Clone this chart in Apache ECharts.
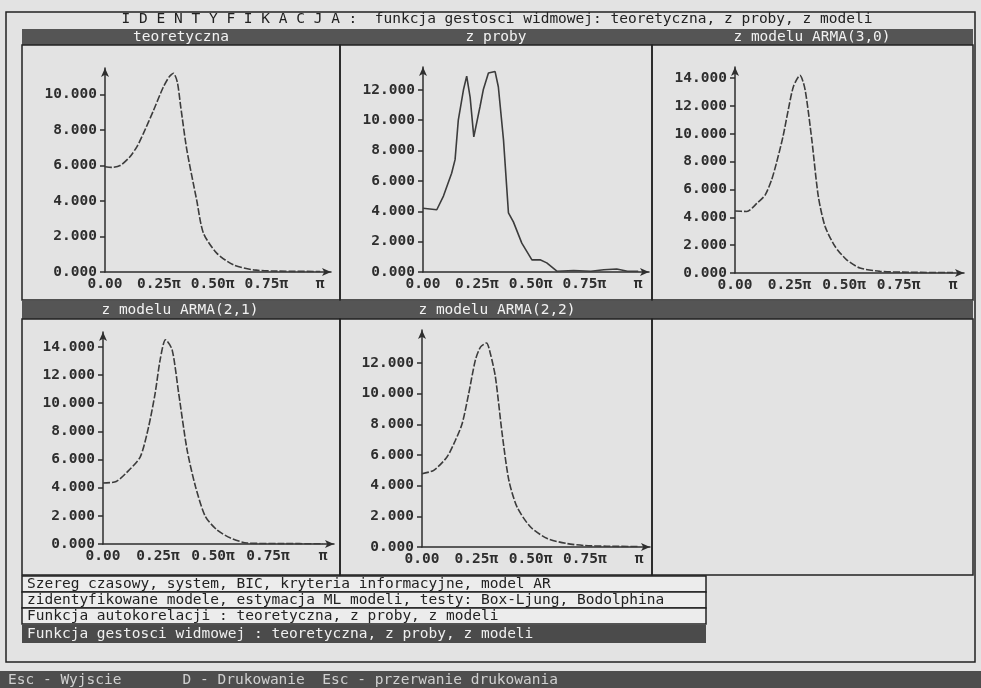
<!DOCTYPE html>
<html>
<head>
<meta charset="utf-8">
<script src="https://cdn.jsdelivr.net/npm/echarts@6/dist/echarts.min.js"></script>
<style>html,body{margin:0;padding:0;background:#e3e3e3;}#c{width:981px;height:688px;}</style>
</head>
<body>
<div id="c"></div>
<script>
// ---- data (frequency as fraction of π, spectral density values) ----
const titleText = 'I D E N T Y F I K A C J A :  funkcja gestosci widmowej: teoretyczna, z proby, z modeli';
const panelTitles = ['teoretyczna', 'z proby', 'z modelu ARMA(3,0)', 'z modelu ARMA(2,1)', 'z modelu ARMA(2,2)'];
const xTickValues = [0, 0.25, 0.5, 0.75, 1];
const xTickLabels = ['0.00', '0.25π', '0.50π', '0.75π', 'π'];

const xTeor = [0, 0.03, 0.07, 0.116, 0.15, 0.178, 0.225, 0.27, 0.298, 0.318, 0.336, 0.352, 0.38, 0.426, 0.457, 0.52, 0.597, 0.69, 0.8, 1.0];
const yTeor = [5.93, 5.9, 6.0, 6.5, 7.1, 7.8, 9.1, 10.4, 11.0, 11.2, 10.7, 9.3, 6.9, 4.05, 2.2, 1.05, 0.4, 0.12, 0.05, 0.03];

const xProby = [0, 0.064, 0.095, 0.133, 0.149, 0.164, 0.188, 0.203, 0.219, 0.236, 0.265, 0.28, 0.304, 0.335, 0.35, 0.374, 0.397, 0.42, 0.459, 0.506, 0.544, 0.575, 0.622, 0.7, 0.78, 0.84, 0.9, 0.95, 1.0];
const yProby = [4.2, 4.1, 5.0, 6.5, 7.4, 10.0, 12.0, 12.9, 11.5, 8.9, 10.9, 12.0, 13.1, 13.2, 12.2, 8.7, 3.9, 3.3, 1.9, 0.8, 0.8, 0.6, 0.05, 0.1, 0.05, 0.15, 0.2, 0.05, 0.05];

const xArma30 = [0, 0.054, 0.1, 0.138, 0.168, 0.19, 0.22, 0.244, 0.268, 0.298, 0.321, 0.352, 0.382, 0.413, 0.459, 0.512, 0.573, 0.665, 0.8, 1.0];
const yArma30 = [4.45, 4.42, 5.0, 5.6, 6.7, 7.9, 9.8, 11.7, 13.4, 14.2, 13.2, 9.6, 5.5, 3.35, 1.9, 0.95, 0.36, 0.12, 0.05, 0.03];

const xArma21 = [0, 0.06, 0.12, 0.17, 0.207, 0.237, 0.26, 0.284, 0.314, 0.344, 0.382, 0.42, 0.465, 0.518, 0.58, 0.655, 0.8, 1.0];
const yArma21 = [4.33, 4.44, 5.27, 6.2, 8.3, 10.7, 13.1, 14.5, 13.8, 10.7, 6.7, 4.1, 1.96, 1.0, 0.42, 0.07, 0.03, 0.02];

const xArma22 = [0, 0.054, 0.115, 0.154, 0.185, 0.215, 0.246, 0.27, 0.297, 0.315, 0.338, 0.369, 0.4, 0.438, 0.5, 0.577, 0.669, 0.746, 0.85, 1.0];
const yArma22 = [4.78, 5.0, 5.87, 6.96, 8.05, 10.0, 12.2, 13.05, 13.3, 12.6, 11.1, 7.4, 4.35, 2.6, 1.3, 0.55, 0.22, 0.1, 0.05, 0.03];

const yAxisMax = [11.5, 13.5, 14.8, 15.05, 14.15];
const yTickValues = [[0,2,4,6,8,10],[0,2,4,6,8,10,12],[0,2,4,6,8,10,12,14],[0,2,4,6,8,10,12,14],[0,2,4,6,8,10,12]];

// ---- layout ----
const FONT = '"DejaVu Sans Mono", "Liberation Mono", monospace';
const grids = [
  {left: 105, top: 68, width: 226, height: 204},
  {left: 423, top: 67, width: 226, height: 205},
  {left: 735, top: 67, width: 229, height: 206},
  {left: 103, top: 332, width: 231, height: 212},
  {left: 422, top: 330, width: 228, height: 217}
];
const xs = [xTeor, xProby, xArma30, xArma21, xArma22];
const ys = [yTeor, yProby, yArma30, yArma21, yArma22];

const ink = '#2e2e2e';
const xAxes = grids.map((g, i) => ({
  gridIndex: i, type: 'value', min: 0, max: 1.05,
  axisLine: {show: true, onZero: false, lineStyle: {color: ink, width: 1.5}, symbol: ['none', 'arrow'], symbolSize: [6, 9]},
  axisTick: {show: false},
  splitLine: {show: false},
  axisLabel: {
    customValues: xTickValues, margin: 5,
    color: ink, fontFamily: FONT, fontSize: 14.5, fontWeight: 'bold',
    formatter: v => { const k = xTickValues.indexOf(v); return k >= 0 ? xTickLabels[k] : ''; }
  }
}));
const yAxes = grids.map((g, i) => ({
  gridIndex: i, type: 'value', min: 0, max: yAxisMax[i],
  axisLine: {show: true, onZero: false, lineStyle: {color: ink, width: 1.5}, symbol: ['none', 'arrow'], symbolSize: [6, 9]},
  axisTick: {show: true, customValues: yTickValues[i], length: 5, lineStyle: {color: ink, width: 1.5}},
  splitLine: {show: false},
  axisLabel: {
    customValues: yTickValues[i], margin: 8,
    color: ink, fontFamily: FONT, fontSize: 14.5, fontWeight: 'bold',
    formatter: v => v.toFixed(3)
  }
}));
const series = grids.map((g, i) => ({
  type: 'line', xAxisIndex: i, yAxisIndex: i,
  data: xs[i].map((x, k) => [x, ys[i][k]]),
  showSymbol: false, smooth: i === 1 ? false : 0.25,
  lineStyle: {color: '#3c3c3c', width: 1.6, type: i === 1 ? 'solid' : [7, 2]},
  silent: true
}));

const dark = '#555555';
function txt(text, x, y, color, align) {
  return {type: 'text', z: 10, style: {text: text, x: x, y: y, fill: color, font: '14.5px ' + FONT,
    textAlign: align || 'center', align: align || 'center', textVerticalAlign: 'middle', verticalAlign: 'middle'}};
}
function box(x, y, w, h, fill) {
  return {type: 'rect', z: 1, shape: {x: x, y: y, width: w, height: h},
    style: {fill: fill || 'none', stroke: '#222', lineWidth: 1.5}};
}
const graphic = [
  box(6, 12, 969, 650),
  txt(titleText, 497, 19.5, '#222'),
  {type: 'rect', z: 1, shape: {x: 22, y: 29, width: 951, height: 16}, style: {fill: dark}},
  box(22, 45, 318, 255), box(340, 45, 312, 255), box(652, 45, 321, 255),
  {type: 'rect', z: 1, shape: {x: 22, y: 301, width: 951, height: 18}, style: {fill: dark}},
  box(22, 319, 318, 256), box(340, 319, 312, 256), box(652, 319, 321, 256),
  txt(panelTitles[0], 181, 37, '#f2f2f2'),
  txt(panelTitles[1], 496, 37, '#f2f2f2'),
  txt(panelTitles[2], 812, 37, '#f2f2f2'),
  txt(panelTitles[3], 180, 310, '#f2f2f2'),
  txt(panelTitles[4], 497, 310, '#f2f2f2'),
  box(22, 576, 684, 16, '#ececec'), box(22, 592, 684, 16, '#ececec'), box(22, 608, 684, 16, '#ececec'),
  {type: 'rect', z: 1, shape: {x: 22, y: 625, width: 684, height: 18}, style: {fill: '#4b4b4b'}},
  txt('Szereg czasowy, system, BIC, kryteria informacyjne, model AR', 27, 584, '#222', 'left'),
  txt('zidentyfikowane modele, estymacja ML modeli, testy: Box-Ljung, Bodolphina', 27, 600, '#222', 'left'),
  txt('Funkcja autokorelacji : teoretyczna, z proby, z modeli', 27, 616, '#222', 'left'),
  txt('Funkcja gestosci widmowej : teoretyczna, z proby, z modeli', 27, 634, '#f0f0f0', 'left'),
  {type: 'rect', z: 1, shape: {x: 0, y: 671, width: 981, height: 17}, style: {fill: '#4e4e4e'}},
  txt('Esc - Wyjscie       D - Drukowanie  Esc - przerwanie drukowania', 8, 680, '#d0d0d0', 'left')
];

const chart = echarts.init(document.getElementById('c'), null, {renderer: 'canvas'});
chart.setOption({
  backgroundColor: '#e3e3e3',
  animation: false,
  grid: grids,
  xAxis: xAxes,
  yAxis: yAxes,
  series: series,
  graphic: graphic
});
</script>
</body>
</html>
